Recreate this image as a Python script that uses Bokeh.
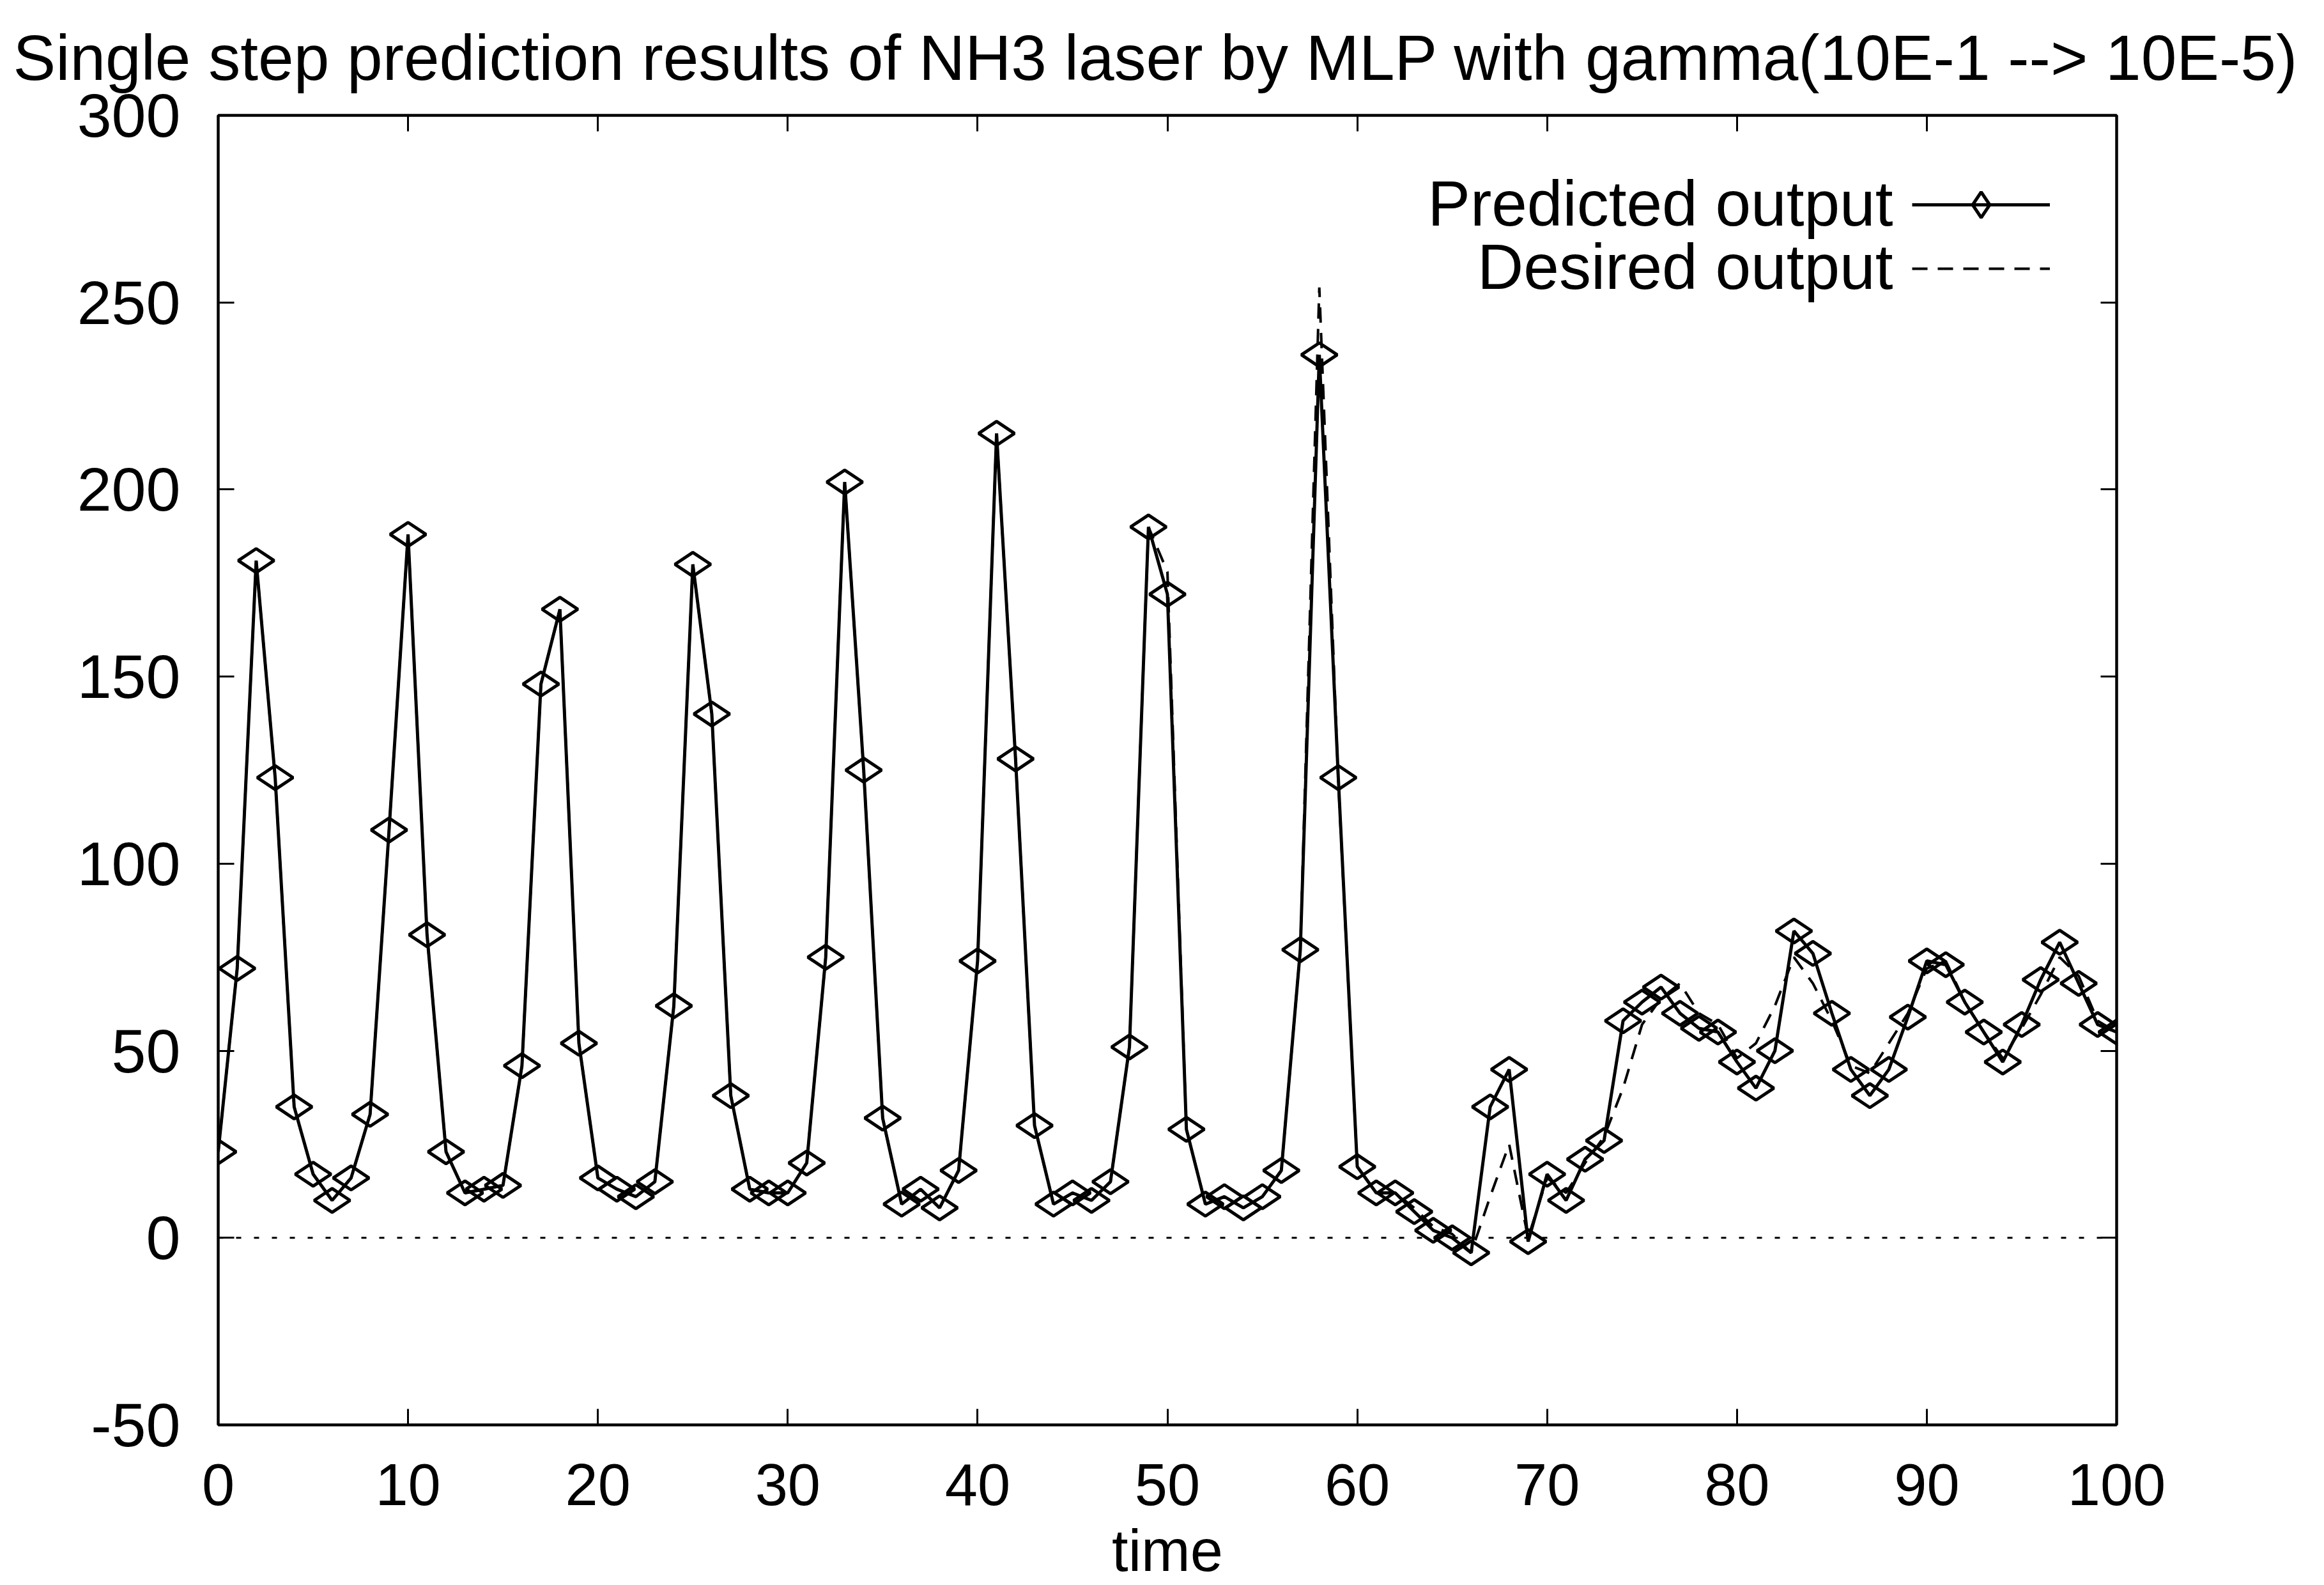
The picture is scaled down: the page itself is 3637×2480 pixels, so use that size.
import math
from bokeh.plotting import figure
from bokeh.models import (Range1d, SingleIntervalTicker, LinearAxis, Span, Legend,
                          LegendItem, CustomJSTickFormatter, Label)
from bokeh.embed import file_html
from bokeh.resources import INLINE

# ---- data -------------------------------------------------------------
time = list(range(101))

predicted = [23, 72, 181, 123, 35, 17, 10, 16, 33, 109,
             188, 81, 23, 12, 13, 14, 46, 148, 168, 52,
             16, 13, 11, 15, 62, 180, 140, 38, 13, 12,
             12, 20, 75, 202, 125, 32, 9, 13, 8, 18,
             74, 215, 128, 30, 9, 12, 10, 15, 51, 190,
             172, 29, 9, 11, 8, 11, 18, 77, 236, 123,
             19, 12, 12, 7, 2, 0, -4, 35, 45, -1,
             17, 10, 21, 26, 58, 63, 67, 60, 56, 55,
             47, 40, 50, 82, 76, 60, 45, 38, 45, 59,
             74, 73, 63, 55, 47, 57, 69, 79, 68, 57,
             55]

desired = [23, 72, 181, 123, 35, 17, 10, 16, 33, 109,
           188, 81, 23, 12, 13, 14, 46, 148, 168, 52,
           16, 13, 11, 15, 62, 180, 140, 38, 13, 12,
           12, 20, 75, 202, 125, 32, 9, 13, 8, 18,
           74, 215, 128, 30, 9, 12, 10, 15, 51, 190,
           178, 29, 9, 11, 8, 11, 18, 77, 254, 122,
           19, 12, 12, 8, 3, 1, -4, 11, 25, 0,
           16, 12, 20, 27, 40, 57, 64, 68, 60, 57,
           48, 52, 62, 75, 68, 58, 46, 44, 52, 60,
           72, 74, 63, 55, 48, 56, 65, 75, 70, 58,
           55]

x_tick_step = 10
y_tick_step = 50
title_text = "Single step prediction results of NH3 laser by  MLP with gamma(10E-1 --> 10E-5)"
x_label = "time"
legend_labels = ["Predicted output", "Desired output"]

FONT = "Liberation Sans"

# ---- figure -------------------------------------------------------------
p = figure(width=3637, height=2480, output_backend="svg", toolbar_location=None,
           x_range=Range1d(0, 100), y_range=Range1d(-50, 300),
           min_border_left=341, min_border_right=325,
           min_border_top=179, min_border_bottom=251,
           background_fill_color="white", border_fill_color="white")

p.xgrid.visible = False
p.ygrid.visible = False
p.outline_line_color = "black"
p.outline_line_width = 4
p.outline_line_alpha = 1

# title
p.title.text = title_text
p.title.text_font = FONT
p.title.text_font_size = "100px"
p.title.text_font_style = "normal"
p.title.text_color = "black"
p.title.align = "left"
p.title.offset = -321
p.title.standoff = 62

def style_axis(ax, show_labels, font_size):
    ax.axis_line_color = "black"
    ax.axis_line_width = 4
    ax.major_tick_in = 25
    ax.major_tick_out = 0
    ax.major_tick_line_width = 3
    ax.major_tick_line_color = "black"
    ax.minor_tick_line_color = None
    ax.major_label_text_font = FONT
    ax.major_label_text_font_size = font_size
    ax.major_label_text_color = "black"
    if not show_labels:
        ax.formatter = CustomJSTickFormatter(code="return ''")
        ax.major_label_text_color = None
        ax.major_label_text_font_size = "1px"
        ax.major_label_standoff = 0

xa = p.xaxis[0]
xa.ticker = SingleIntervalTicker(interval=x_tick_step)
style_axis(xa, True, "92px")
xa.major_label_standoff = 57
xa.axis_label = x_label
xa.axis_label_text_font = FONT
xa.axis_label_text_font_size = "92px"
xa.axis_label_text_font_style = "normal"
xa.axis_label_text_color = "black"
xa.axis_label_standoff = 17

ya = p.yaxis[0]
ya.ticker = SingleIntervalTicker(interval=y_tick_step)
style_axis(ya, True, "97px")
ya.major_label_standoff = 55
ya.major_label_overrides = {-50: "-50"}

top_ax = LinearAxis(ticker=SingleIntervalTicker(interval=x_tick_step))
style_axis(top_ax, False, "1px")
p.add_layout(top_ax, "above")

right_ax = LinearAxis(ticker=SingleIntervalTicker(interval=y_tick_step))
style_axis(right_ax, False, "1px")
p.add_layout(right_ax, "right")

# zero axis (dotted)
p.add_layout(Span(location=0, dimension="width", line_color="black",
                  line_width=3, line_dash="8 20"))

# ---- series -------------------------------------------------------------
r_des = p.line(time, desired, line_color="black", line_width=4, line_dash="24 16")
r_pred = p.line(time, predicted, line_color="black", line_width=5)
r_pts = p.scatter(time, predicted, marker="diamond", size=56, angle=math.pi / 2,
                  line_color="black", line_width=5, fill_color=None)

# legend samples (gnuplot style: text on the left, sample on the right)
legend = Legend(items=[LegendItem(label=" ", renderers=[r_pred, r_pts]),
                       LegendItem(label=" ", renderers=[r_des])],
                location=(2651, 1759), orientation="vertical",
                glyph_width=216, glyph_height=100, label_height=100,
                label_standoff=0, label_width=1,
                label_text_font=FONT, label_text_font_size="1px",
                background_fill_alpha=0, border_line_color=None,
                padding=0, spacing=0, margin=0)
p.add_layout(legend)

def add_text(text, x, y, size, align="left", baseline="alphabetic"):
    p.add_layout(Label(x=x, y=y, x_units="screen", y_units="screen", text=text,
                       text_font=FONT, text_font_size=size, text_color="black",
                       text_align=align, text_baseline=baseline))

# legend texts
add_text(legend_labels[0], 2621, 1912, "100px", align="right")
add_text(legend_labels[1], 2621, 1813, "100px", align="right")

open("out.html", "w").write(file_html(p, INLINE))
